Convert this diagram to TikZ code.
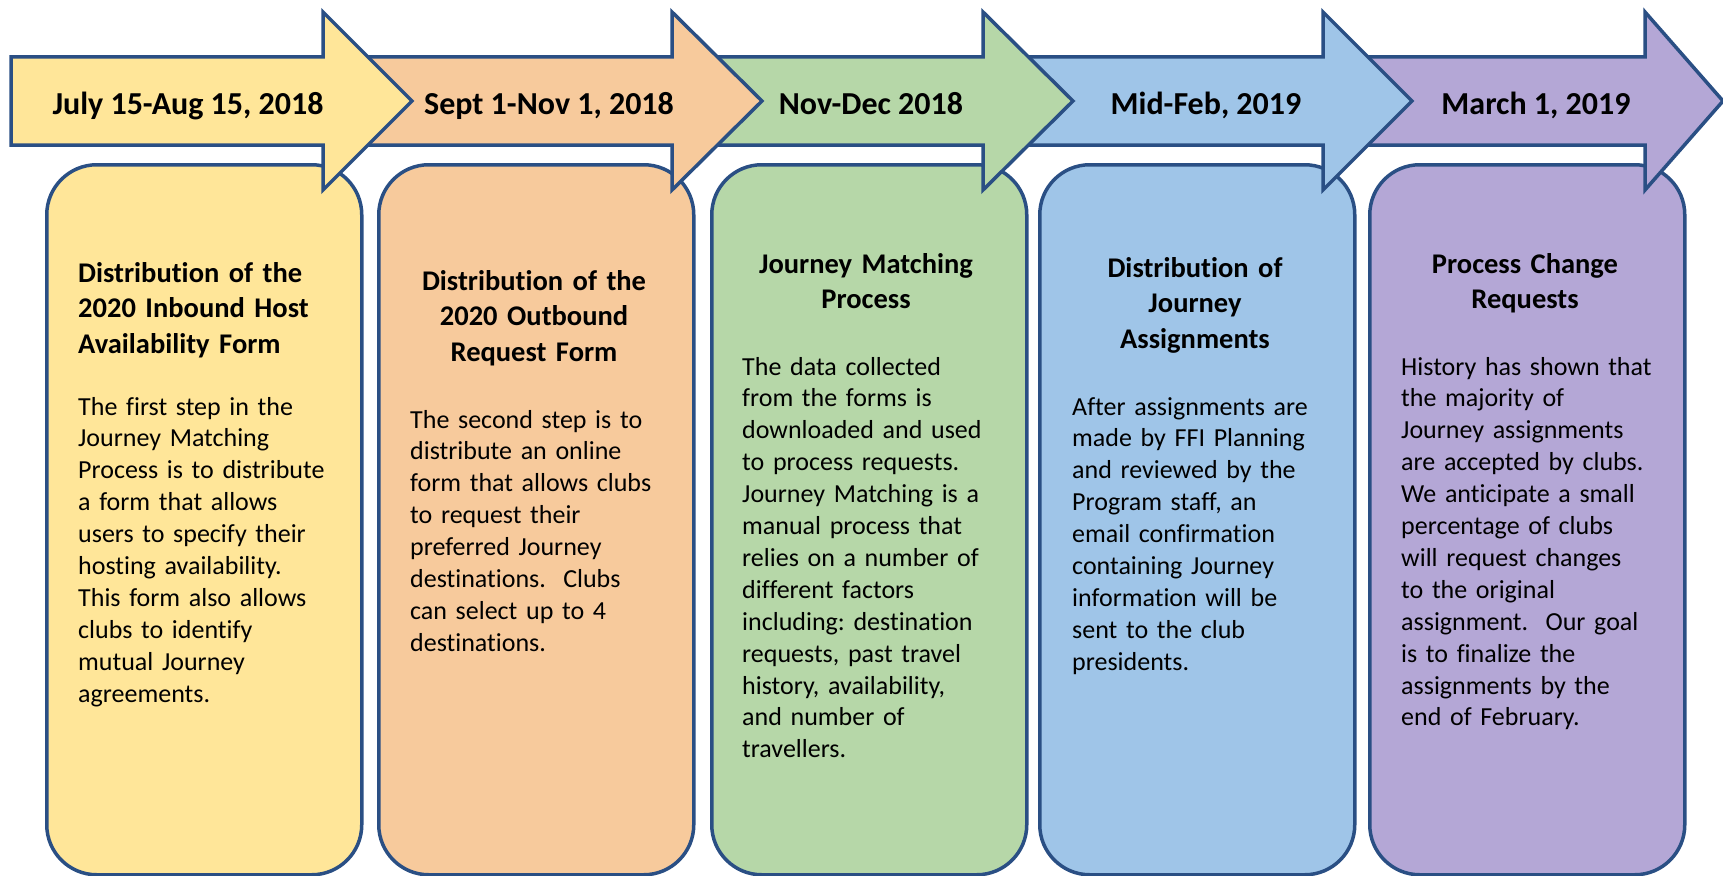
\documentclass[tikz,border=0pt]{standalone}
\usepackage{fontspec}
\setmainfont{Carlito}[Ligatures=NoCommon]
\frenchspacing
\definecolor{lineblue}{HTML}{2A4F84}
\definecolor{cyellow}{HTML}{FFE699}
\definecolor{corange}{HTML}{F7CA9C}
\definecolor{cgreen}{HTML}{B6D7A8}
\definecolor{cblue}{HTML}{9FC5E8}
\definecolor{cpurple}{HTML}{B4A7D6}
\begin{document}
\begin{tikzpicture}[x=1pt,y=-1pt,
  outl/.style={draw=lineblue, line width=3.5pt, line join=miter},
  card/.style={outl, rounded corners=50pt, minimum width=315pt, minimum height=710pt, anchor=north west, inner sep=0pt},
  body/.style={font=\fontsize{26}{31.9}\selectfont, text width=300pt, align=left, inner sep=0pt, anchor=base west},
  ttl/.style={font=\fontsize{28.5}{35.7}\selectfont\bfseries, text width=320pt, align=center, inner sep=0pt, anchor=base},
  ttlleft/.style={font=\fontsize{28.5}{35.7}\selectfont\bfseries, text width=300pt, align=left, inner sep=0pt, anchor=base west},
  albl/.style={font=\fontsize{32}{38}\selectfont\bfseries, inner sep=0pt, anchor=base}]
\useasboundingbox (0,0) rectangle (1723,875);

% cards
\node[card, fill=cyellow] (b1) at (45,163) {};
\node[card, fill=corange] (b2) at (377,163) {};
\node[card, fill=cgreen]  (b3) at (710,163) {};
\node[card, fill=cblue]   (b4) at (1038,163) {};
\node[card, fill=cpurple] (b5) at (1368,163) {};

% card 1
\node[ttlleft] (h1) at (78,282) {Distribution of the\\2020 Inbound Host\\Availability Form};
\node[body] (p1) at (78,415) {The first step in the\\Journey Matching\\Process is to distribute\\a form that allows\\users to specify their\\hosting availability.\\This form also allows\\clubs to identify\\mutual Journey\\agreements.};

% card 2
\node[ttl] (h2) at (534,290) {Distribution of the\\2020 Outbound\\Request Form};
\node[body] (p2) at (410,428) {The second step is to\\distribute an online\\form that allows clubs\\to request their\\preferred Journey\\destinations.\ \ Clubs\\can select up to 4\\destinations.};

% card 3
\node[ttl] (h3) at (866,273) {Journey Matching\\Process};
\node[body] (p3) at (742,375) {The data collected\\from the forms is\\downloaded and used\\to process requests.\\Journey Matching is a\\manual process that\\relies on a number of\\different factors\\including: destination\\requests, past travel\\history, availability,\\and number of\\travellers.};

% card 4
\node[ttl] (h4) at (1195,277) {Distribution of\\Journey\\Assignments};
\node[body] (p4) at (1072,415) {After assignments are\\made by FFI Planning\\and reviewed by the\\Program staff, an\\email confirmation\\containing Journey\\information will be\\sent to the club\\presidents.};

% card 5
\node[ttl] (h5) at (1525,273) {Process Change\\Requests};
\node[body] (p5) at (1401,375) {History has shown that\\the majority of\\Journey assignments\\are accepted by clubs.\\We anticipate a small\\percentage of clubs\\will request changes\\to the original\\assignment.\ \ Our goal\\is to finalize the\\assignments by the\\end of February.};

% arrows (drawn right to left so each lies over the next)
\draw[outl, fill=cpurple] (1340,57) -- (1645,57) -- (1645,12) -- (1723,101) -- (1645,190) -- (1645,145) -- (1340,145) -- cycle;
\draw[outl, fill=cblue]   (1000,57) -- (1323,57) -- (1323,12) -- (1412,101) -- (1323,190) -- (1323,145) -- (1000,145) -- cycle;
\draw[outl, fill=cgreen]  (690,57) -- (983,57) -- (983,12) -- (1073,101) -- (983,190) -- (983,145) -- (690,145) -- cycle;
\draw[outl, fill=corange] (340,57) -- (672,57) -- (672,12) -- (762,101) -- (672,190) -- (672,145) -- (340,145) -- cycle;
\draw[outl, fill=cyellow] (11,57) -- (323,57) -- (323,12) -- (412,101) -- (323,190) -- (323,145) -- (11,145) -- cycle;

% arrow labels
\node[albl] (a1) at (188,114) {July 15-Aug 15, 2018};
\node[albl] (a2) at (549,114) {Sept 1-Nov 1, 2018};
\node[albl] (a3) at (871,114) {Nov-Dec 2018};
\node[albl] (a4) at (1206,114) {Mid-Feb, 2019};
\node[albl] (a5) at (1536,114) {March 1, 2019};
\end{tikzpicture}
\end{document}
